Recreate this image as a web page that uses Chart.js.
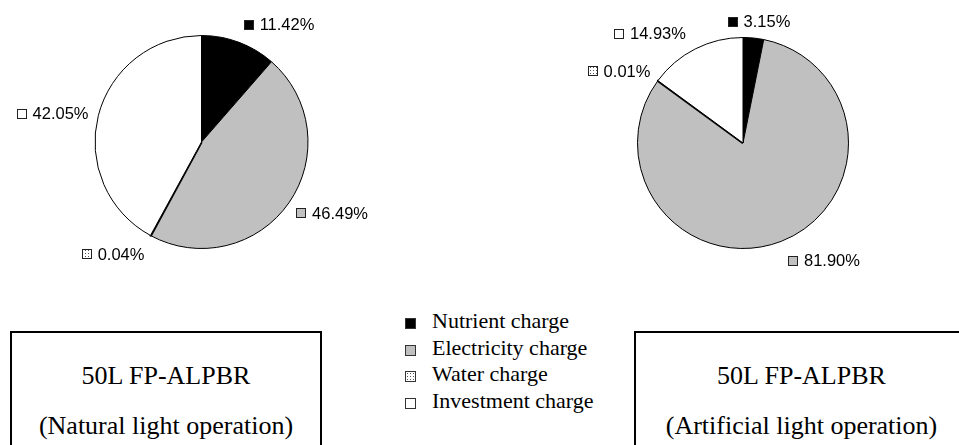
<!DOCTYPE html>
<html>
<head>
<meta charset="utf-8">
<script src="https://cdn.jsdelivr.net/npm/chart.js@4.4.1/dist/chart.umd.min.js"></script>
<style>
  html, body { margin: 0; padding: 0; background: #fff; }
  body { position: relative; width: 959px; height: 445px; overflow: hidden; }
  canvas { position: absolute; top: 0; }
  #pieNatural { left: 0; }
  #pieArtificial { left: 583px; }
  .legend {
    position: absolute; left: 403px; top: 308px;
    font-family: "Liberation Serif", "Times New Roman", serif;
    font-size: 22px; line-height: 26.7px; color: #000;
  }
  .legend .row { position: relative; height: 26.7px; white-space: nowrap; padding-left: 29px; }
  .legend .sw { position: absolute; left: 2px; top: 10px; width: 9px; height: 9px; border: 1px solid #333; }
  .box {
    position: absolute; top: 331px; height: 140px; box-sizing: border-box;
    border: 2px solid #000; padding-top: 18px;
    font-family: "Liberation Serif", "Times New Roman", serif;
    font-size: 26px; line-height: 50px; text-align: center; color: #000; white-space: nowrap;
  }
  #boxNatural { left: 10px; width: 312px; }
  #boxArtificial { left: 634px; width: 335px; }
</style>
</head>
<body>
<canvas id="pieNatural" width="403" height="284"></canvas>
<canvas id="pieArtificial" width="320" height="286"></canvas>
<div class="legend" id="legend"></div>
<div class="box" id="boxNatural"></div>
<div class="box" id="boxArtificial"></div>
<script>
// Cost breakdown of the 50 L FP-ALPBR, share of total cost in percent
const categories = ['Nutrient charge', 'Electricity charge', 'Water charge', 'Investment charge'];
const naturalShares = [11.42, 46.49, 0.04, 42.05];
const artificialShares = [3.15, 81.90, 0.01, 14.93];
const reactorName = '50L FP-ALPBR';
const naturalCaption = '(Natural light operation)';
const artificialCaption = '(Artificial light operation)';

// dotted fill used for the water share
const tile = document.createElement('canvas');
tile.width = 3; tile.height = 3;
const tctx = tile.getContext('2d');
tctx.fillStyle = '#ffffff'; tctx.fillRect(0, 0, 3, 3);
tctx.fillStyle = '#555555'; tctx.fillRect(1, 1, 1, 1);
const waterPattern = tctx.createPattern(tile, 'repeat');

const sliceFills = ['#000000', '#c0c0c0', waterPattern, '#ffffff'];
const cssFills = ['#000', '#c0c0c0',
  'radial-gradient(circle, #555 0.7px, transparent 0.8px) 0 0 / 3px 3px, #fff', '#fff'];

// percentage labels placed just outside each slice
const sliceLabels = {
  id: 'sliceLabels',
  afterDatasetsDraw(chart, args, opts) {
    const ctx = chart.ctx;
    const meta = chart.getDatasetMeta(0);
    const values = chart.data.datasets[0].data;
    const fs = 16.5;
    ctx.save();
    ctx.font = fs + 'px "Liberation Sans", Arial, sans-serif';
    ctx.textBaseline = 'alphabetic';
    meta.data.forEach((arc, i) => {
      const p = arc.getProps(['x', 'y', 'startAngle', 'endAngle', 'outerRadius'], true);
      const a = (p.startAngle + p.endAngle) / 2 + opts.nudge[i] * Math.PI / 180;
      const d = p.outerRadius + opts.gap[i];
      const cx = p.x + Math.cos(a) * d;
      const cy = p.y + Math.sin(a) * d;
      const text = values[i].toFixed(2) + '%';
      const tw = ctx.measureText(text).width;
      const left = cx - (16 + tw) / 2;
      const mx = Math.round(left) + 0.5;
      const my = Math.round(cy - 4.5) + 0.5;
      ctx.fillStyle = sliceFills[i];
      ctx.fillRect(mx, my, 9, 9);
      ctx.strokeStyle = '#222';
      ctx.lineWidth = 1;
      ctx.strokeRect(mx, my, 9, 9);
      ctx.fillStyle = '#000';
      ctx.fillText(text, left + 16, cy + fs * 0.358);
    });
    ctx.restore();
  }
};

function makePie(id, shares, radius, nudge, gap) {
  return new Chart(document.getElementById(id), {
    type: 'pie',
    data: {
      labels: categories,
      datasets: [{
        data: shares,
        backgroundColor: sliceFills,
        borderColor: '#000',
        borderWidth: [1, 1, 2.5, 1]
      }]
    },
    options: {
      responsive: false,
      animation: false,
      events: [],
      radius: radius,
      layout: { padding: 0 },
      plugins: {
        legend: { display: false },
        tooltip: { enabled: false },
        sliceLabels: { nudge: nudge, gap: gap }
      }
    },
    plugins: [sliceLabels]
  });
}

makePie('pieNatural', naturalShares, 106.5, [12.8, -6.3, 9.8, -3.4], [34.5, 42, 36.1, 45.2]);
makePie('pieArtificial', artificialShares, 105.5, [1.8, -13.4, -6.0, -13.4], [17.3, 37, 38, 38.4]);

// shared legend
const legend = document.getElementById('legend');
categories.forEach((name, i) => {
  const row = document.createElement('div');
  row.className = 'row';
  const sw = document.createElement('span');
  sw.className = 'sw';
  sw.style.background = cssFills[i];
  row.appendChild(sw);
  row.appendChild(document.createTextNode(name));
  legend.appendChild(row);
});

// captions under each pie
[['boxNatural', naturalCaption], ['boxArtificial', artificialCaption]].forEach(([id, caption]) => {
  const box = document.getElementById(id);
  [reactorName, caption].forEach(t => {
    const line = document.createElement('div');
    line.textContent = t;
    box.appendChild(line);
  });
});
</script>
</body>
</html>
